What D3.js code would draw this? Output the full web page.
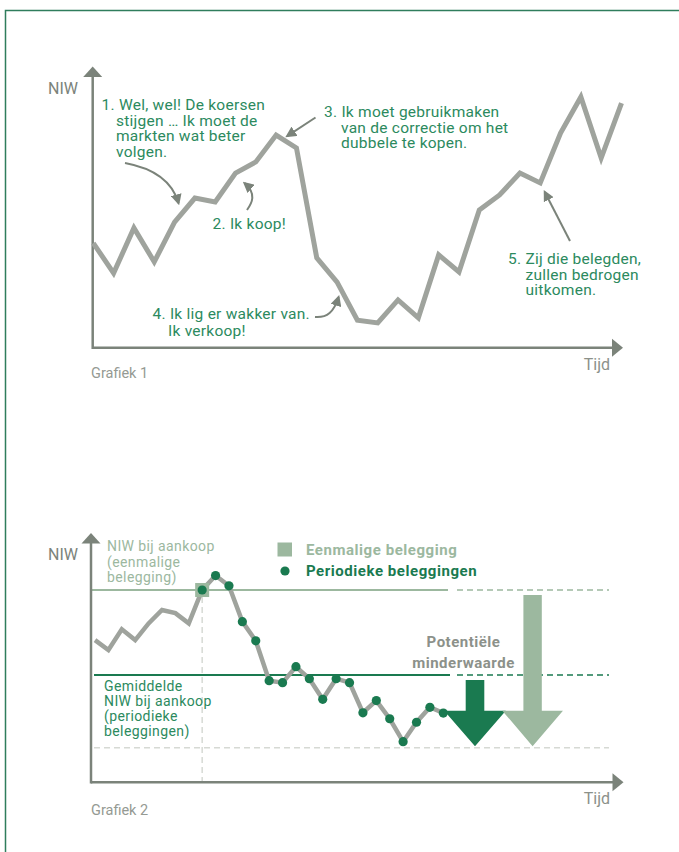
<!DOCTYPE html>
<html>
<head>
<meta charset="utf-8">
<script src="https://cdn.jsdelivr.net/npm/d3@7"></script>
<style>
  body { margin: 0; background: #fff; }
  svg { display: block; font-family: Roboto, "Noto Sans", sans-serif; }
</style>
</head>
<body>
<svg id="chart" width="679" height="852"></svg>
<script>
// Grafiek 1: koersverloop (NIW per periode)
var topValues = [37.1, 26.4, 42.5, 30.4, 44.6, 53.2, 51.8, 62.1, 66.1, 75.7, 71.1, 31.8, 23.2, 9.6,
  8.6, 16.8, 10.4, 32.9, 26.8, 48.9, 54.3, 62.1, 58.6, 76.4, 89.3, 67.5, 87.1];

// Grafiek 2: koersverloop, aankoop op periode 8, daarna periodiek
var bottomValues = [57.0, 53.0, 61.3, 57.0, 63.7, 69.1, 67.8, 63.7, 77.1, 82.9, 78.8, 64.4, 56.7, 40.7,
  39.9, 46.3, 41.5, 33.2, 41.5, 39.9, 27.8, 32.7, 25.4, 16.2, 24.0, 30.0, 27.7];
var buyIndex = 8;          // eenmalige belegging
var averageLevel = 43.0;   // gemiddelde NIW bij aankoop (periodiek)
var floorLevel = 13.8;     // eindwaarde (gestippelde lijn)

var annotations = [
  { lines: ["1. Wel, wel! De koersen", "stijgen … Ik moet de", "markten wat beter", "volgen."], x: 101.5, y: 105, indent: 116, step: 15.4 },
  { lines: ["2. Ik koop!"], x: 212.5, y: 224, indent: 212.5, step: 15.4 },
  { lines: ["3. Ik moet gebruikmaken", "van de correctie om het", "dubbele te kopen."], x: 324, y: 112, indent: 341, step: 15.4 },
  { lines: ["4. Ik lig er wakker van.", "Ik verkoop!"], x: 152.5, y: 313.5, indent: 168, step: 17 },
  { lines: ["5. Zij die belegden,", "zullen bedrogen", "uitkomen."], x: 508, y: 259, indent: 525.5, step: 15.2 }
];

var AXIS = "#7b837a", LINE = "#9fa39d", TXT = "#2c8a5e", DARK = "#1a7a50", LIGHT = "#9cb89f", LABEL = "#8c918a";

var svg = d3.select("#chart");

// frame
svg.append("path")
  .attr("d", "M5.5,852 V10.5 H679")
  .attr("fill", "none").attr("stroke", "#2f7d5c").attr("stroke-width", 1.5);

var defs = svg.append("defs");
defs.append("marker")
  .attr("id", "head")
  .attr("viewBox", "0 0 10 10")
  .attr("refX", 8).attr("refY", 5)
  .attr("markerWidth", 5.5).attr("markerHeight", 5.5)
  .attr("markerUnits", "strokeWidth")
  .attr("orient", "auto")
  .append("path").attr("d", "M0,0 L10,5 L0,10 Z").attr("fill", AXIS);

// one <text> per line so the lines stay separate
function multiLine(g, lines, x, indent, y, step, color, size, weight, spacing, anchor) {
  lines.forEach(function (l, i) {
    g.append("text")
      .attr("x", i === 0 ? x : indent)
      .attr("y", y + i * step)
      .attr("dy", "0.35em")
      .attr("text-anchor", anchor || "start")
      .attr("fill", color)
      .style("font-size", size + "px")
      .style("font-weight", weight || "normal")
      .style("letter-spacing", (spacing || 0) + "px")
      .text(l);
  });
}

function drawAxes(g, x0, xTip, yBase, yTip, niwY, tijdY, caption, captionY) {
  g.append("line").attr("x1", x0).attr("x2", xTip - 10).attr("y1", yBase).attr("y2", yBase)
    .attr("stroke", AXIS).attr("stroke-width", 2.5);
  g.append("line").attr("x1", x0).attr("x2", x0).attr("y1", yBase + 1.2).attr("y2", yTip + 10)
    .attr("stroke", AXIS).attr("stroke-width", 2.5);
  g.append("path").attr("fill", AXIS)
    .attr("d", "M" + (xTip - 11) + "," + (yBase - 9) + " L" + xTip + "," + yBase + " L" + (xTip - 11) + "," + (yBase + 9) + " Z");
  g.append("path").attr("fill", AXIS)
    .attr("d", "M" + (x0 - 9.5) + "," + (yTip + 10.5) + " L" + x0 + "," + yTip + " L" + (x0 + 9.5) + "," + (yTip + 10.5) + " Z");
  g.append("text").attr("x", 78).attr("y", niwY).attr("dy", "0.35em").attr("text-anchor", "end")
    .attr("fill", AXIS).style("font-size", "16px").text("NIW");
  g.append("text").attr("x", 610).attr("y", tijdY).attr("dy", "0.35em").attr("text-anchor", "end")
    .attr("fill", LABEL).style("font-size", "16px").text("Tijd");
  g.append("text").attr("x", 91).attr("y", captionY).attr("dy", "0.35em")
    .attr("fill", "#959a93").style("font-size", "14.5px").text(caption);
}

// ---------- Grafiek 1 ----------
var g1 = svg.append("g");
var x1 = d3.scaleLinear().domain([0, topValues.length - 1]).range([93.3, 621.5]);
var y1 = d3.scaleLinear().domain([0, 100]).range([347, 67]);

drawAxes(g1, 92.7, 623, 347.7, 66.5, 88, 364.5, "Grafiek 1", 373);

g1.append("path")
  .datum(topValues)
  .attr("fill", "none").attr("stroke", LINE).attr("stroke-width", 5)
  .attr("stroke-linejoin", "miter")
  .attr("d", d3.line().x(function (d, i) { return x1(i); }).y(function (d) { return y1(d); }));

annotations.forEach(function (a) {
  multiLine(g1, a.lines, a.x, a.indent, a.y, a.step, TXT, 15.5, "normal", 0.25);
});

// annotation arrows, anchored on the data points
function px(i) { return x1(i); }
function py(i) { return y1(topValues[i]); }
var arrows = [
  "M125,163 C152,168 172,180 " + (px(4) + 4) + "," + (py(4) - 19),
  "M247,210 C252,203 257,194 " + (px(7) + 9) + "," + (py(7) + 10),
  "M315.5,117.5 L" + (px(9) + 11) + "," + (py(9) + 1),
  "M315,317 C327,318 334,312 " + (px(12) + 1.5) + "," + (py(12) + 15),
  "M570,241 L" + (px(22) + 4.5) + "," + (py(22) + 9)
];
g1.selectAll(".ann-arrow")
  .data(arrows)
  .enter().append("path")
  .attr("class", "ann-arrow")
  .attr("d", function (d) { return d; })
  .attr("fill", "none").attr("stroke", AXIS).attr("stroke-width", 2)
  .attr("marker-end", "url(#head)");

// ---------- Grafiek 2 ----------
var g2 = svg.append("g");
var x2 = d3.scaleLinear().domain([0, bottomValues.length - 1]).range([95, 443.3]);
var y2 = d3.scaleLinear().domain([0, 100]).range([782, 533]);
var buyLevel = bottomValues[buyIndex];

// reference lines
g2.append("line").attr("x1", 92).attr("x2", 448).attr("y1", y2(buyLevel)).attr("y2", y2(buyLevel))
  .attr("stroke", LIGHT).attr("stroke-width", 2);
g2.append("line").attr("x1", 457).attr("x2", 609).attr("y1", y2(buyLevel)).attr("y2", y2(buyLevel))
  .attr("stroke", LIGHT).attr("stroke-width", 1.5).attr("stroke-dasharray", "6,4");
g2.append("line").attr("x1", 94).attr("x2", 450).attr("y1", y2(averageLevel)).attr("y2", y2(averageLevel))
  .attr("stroke", DARK).attr("stroke-width", 2);
g2.append("line").attr("x1", 457).attr("x2", 609).attr("y1", y2(averageLevel)).attr("y2", y2(averageLevel))
  .attr("stroke", DARK).attr("stroke-width", 1.5).attr("stroke-dasharray", "6,4");
g2.append("line").attr("x1", 94).attr("x2", 609).attr("y1", y2(floorLevel)).attr("y2", y2(floorLevel))
  .attr("stroke", "#d6d9d4").attr("stroke-width", 1.5).attr("stroke-dasharray", "6,4");
g2.append("line").attr("x1", x2(buyIndex)).attr("x2", x2(buyIndex)).attr("y1", y2(buyLevel) + 7).attr("y2", 781)
  .attr("stroke", "#d6d9d4").attr("stroke-width", 1.5).attr("stroke-dasharray", "6,4");

drawAxes(g2, 91, 623.5, 782.3, 533, 554, 798.5, "Grafiek 2", 810);

// reference labels
multiLine(g2, ["NIW bij aankoop", "(eenmalige", "belegging)"], 107, 107, 546, 15.7, LIGHT, 14, "normal", 0.4);
multiLine(g2, ["Gemiddelde", "NIW bij aankoop", "(periodieke", "beleggingen)"], 104, 104, 686, 15, TXT, 14, "normal", 0.4);

// price line
g2.append("path")
  .datum(bottomValues)
  .attr("fill", "none").attr("stroke", LINE).attr("stroke-width", 4.5)
  .attr("stroke-linejoin", "miter")
  .attr("d", d3.line().x(function (d, i) { return x2(i); }).y(function (d) { return y2(d); }));

// eenmalige aankoop
g2.append("rect")
  .attr("x", x2(buyIndex) - 7).attr("y", y2(buyLevel) - 7).attr("width", 14).attr("height", 14)
  .attr("fill", LIGHT);

// periodieke aankopen
g2.selectAll(".buy-dot")
  .data(bottomValues.slice(buyIndex))
  .enter().append("circle")
  .attr("class", "buy-dot")
  .attr("cx", function (d, i) { return x2(i + buyIndex); })
  .attr("cy", function (d) { return y2(d); })
  .attr("r", 4.6)
  .attr("fill", DARK);

// legend
g2.append("rect").attr("x", 277.5).attr("y", 542.5).attr("width", 14.5).attr("height", 14).attr("fill", LIGHT);
multiLine(g2, ["Eenmalige belegging"], 306, 306, 549.5, 0, LIGHT, 15, "bold", 0.55);
g2.append("circle").attr("cx", 285).attr("cy", 571).attr("r", 4.6).attr("fill", DARK);
multiLine(g2, ["Periodieke beleggingen"], 306, 306, 570.5, 0, DARK, 15, "bold", 0.55);

// potentiele minderwaarde
multiLine(g2, ["Potentiële", "minderwaarde"], 463.5, 463.5, 642, 21, LABEL, 15, "bold", 0.5, "middle");

function downArrow(cx, shaftW, headW, yTop, yTip, color) {
  var headY = yTip - 35.5;
  g2.append("path").attr("fill", color)
    .attr("d", "M" + (cx - shaftW / 2) + "," + yTop + " H" + (cx + shaftW / 2) + " V" + headY +
      " H" + (cx + headW / 2) + " L" + cx + "," + yTip + " L" + (cx - headW / 2) + "," + headY +
      " H" + (cx - shaftW / 2) + " Z");
}
downArrow(475, 18.6, 61.6, y2(averageLevel) + 5, y2(floorLevel) - 1.5, DARK);
downArrow(532.6, 18.4, 60.7, y2(buyLevel) + 5, y2(floorLevel) - 1.5, LIGHT);
</script>
</body>
</html>
